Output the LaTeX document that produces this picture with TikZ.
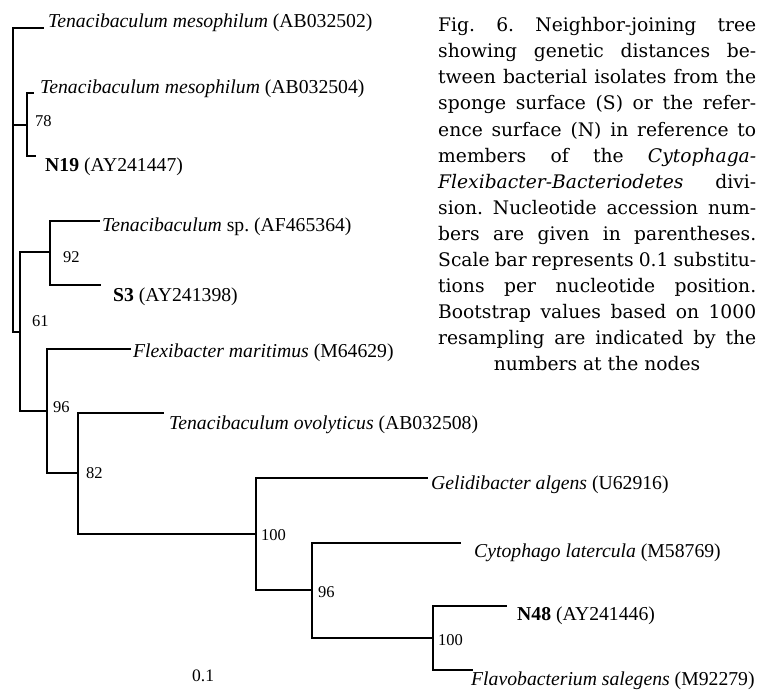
\documentclass[tikz,border=0pt]{standalone}
\usepackage{fontspec}
\setmainfont{Liberation Serif}
\newfontfamily\capfont{DejaVu Serif}
\frenchspacing
\begin{document}
\begin{tikzpicture}[x=1pt,y=-1pt,
  branch/.style={line width=1.9pt, line cap=rect, line join=miter},
  taxon/.style={anchor=base west, inner sep=0pt, font=\fontsize{19.7}{22}\selectfont},
  boot/.style={anchor=base west, inner sep=0pt, font=\fontsize{16.5}{18}\selectfont},
  capline/.style={anchor=base west, inner sep=0pt, font=\capfont\fontsize{18.7}{22}\selectfont}]
\useasboundingbox (0,0) rectangle (760,690);

% tree coordinates (junctions and leaf tips)
\coordinate (root) at (13,125);
\coordinate (L1) at (43,28);
\coordinate (n78) at (27,125);
\coordinate (L2) at (33,93);
\coordinate (L3) at (35,156);
\coordinate (n61) at (20,332);
\coordinate (n92) at (50,252);
\coordinate (L4) at (99,221);
\coordinate (L5) at (100,285);
\coordinate (n96a) at (47,411);
\coordinate (L6) at (130,349);
\coordinate (n82) at (78,473);
\coordinate (L7) at (163,413);
\coordinate (n100) at (256,534);
\coordinate (L8) at (427,478);
\coordinate (n96b) at (312,590);
\coordinate (L9) at (460,543);
\coordinate (n100b) at (433,638);
\coordinate (L10) at (506,606);
\coordinate (L11) at (472,670);

\draw[branch] (root) |- (L1);
\draw[branch] (root) |- (n78);
\draw[branch] (root) |- (n61);
\draw[branch] (n78) |- (L2);
\draw[branch] (n78) |- (L3);
\draw[branch] (n61) |- (n92);
\draw[branch] (n61) |- (n96a);
\draw[branch] (n92) |- (L4);
\draw[branch] (n92) |- (L5);
\draw[branch] (n96a) |- (L6);
\draw[branch] (n96a) |- (n82);
\draw[branch] (n82) |- (L7);
\draw[branch] (n82) |- (n100);
\draw[branch] (n100) |- (L8);
\draw[branch] (n100) |- (n96b);
\draw[branch] (n96b) |- (L9);
\draw[branch] (n96b) |- (n100b);
\draw[branch] (n100b) |- (L10);
\draw[branch] (n100b) |- (L11);

% taxa
\node[taxon] (t1) at (48,28) {\textit{Tenacibaculum mesophilum} (AB032502)};
\node[taxon] (t2) at (40,94) {\textit{Tenacibaculum mesophilum} (AB032504)};
\node[taxon] (t3) at (45,171) {\textbf{N19} (AY241447)};
\node[taxon] (t4) at (102,231) {\textit{Tenacibaculum} sp. (AF465364)};
\node[taxon] (t5) at (113,301) {\textbf{S3} (AY241398)};
\node[taxon] (t6) at (133,357) {\textit{Flexibacter maritimus} (M64629)};
\node[taxon] (t7) at (169,429) {\textit{Tenacibaculum ovolyticus} (AB032508)};
\node[taxon] (t8) at (431,489) {\textit{Gelidibacter algens} (U62916)};
\node[taxon] (t9) at (474,557) {\textit{Cytophago latercula} (M58769)};
\node[taxon] (t10) at (517,620) {\textbf{N48} (AY241446)};
\node[taxon] (t11) at (471,685) {\textit{Flavobacterium salegens} (M92279)};

% bootstrap values
\node[boot] (b78) at (35,127) {78};
\node[boot] (b92) at (63,262) {92};
\node[boot] (b61) at (32,326) {61};
\node[boot] (b96a) at (53,412) {96};
\node[boot] (b82) at (86,478) {82};
\node[boot] (b100) at (261,540) {100};
\node[boot] (b96b) at (318,597) {96};
\node[boot] (b100b) at (438,645) {100};
\node[boot, font=\fontsize{17.5}{18}\selectfont] (scale) at (192,681) {0.1};

% caption
\node[capline] (c1) at (438,32) {\makebox[318pt][s]{Fig. 6. Neighbor-joining tree}};
\node[capline] (c2) at (438,58) {\makebox[318pt][s]{showing genetic distances be-}};
\node[capline] (c3) at (438,84) {\makebox[318pt][s]{tween bacterial isolates from the}};
\node[capline] (c4) at (438,110) {\makebox[318pt][s]{sponge surface (S) or the refer-}};
\node[capline] (c5) at (438,136) {\makebox[318pt][s]{ence surface (N) in reference to}};
\node[capline] (c6) at (438,162) {\makebox[318pt][s]{members of the \textit{Cytophaga-}}};
\node[capline] (c7) at (438,188) {\makebox[318pt][s]{\textit{Flexibacter-Bacteriodetes} divi-}};
\node[capline] (c8) at (438,214) {\makebox[318pt][s]{sion. Nucleotide accession num-}};
\node[capline] (c9) at (438,240) {\makebox[318pt][s]{bers are given in parentheses.}};
\node[capline] (c10) at (438,266) {\makebox[318pt][s]{Scale bar represents 0.1 substitu-}};
\node[capline] (c11) at (438,292) {\makebox[318pt][s]{tions per nucleotide position.}};
\node[capline] (c12) at (438,318) {\makebox[318pt][s]{Bootstrap values based on 1000}};
\node[capline] (c13) at (438,344) {\makebox[318pt][s]{resampling are indicated by the}};
\node[capline, anchor=base] (c14) at (597,370) {numbers at the nodes};
\end{tikzpicture}
\end{document}
